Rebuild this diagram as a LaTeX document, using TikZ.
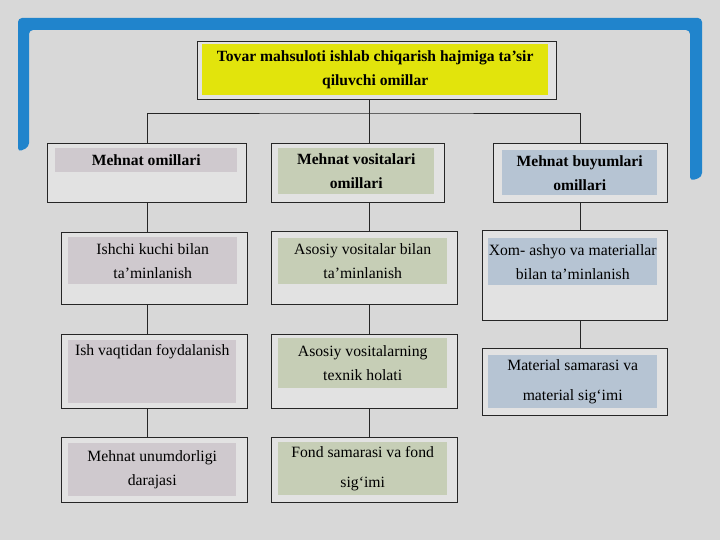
\documentclass[tikz,border=0pt]{standalone}
\usepackage{fontspec}
\setmainfont{Liberation Serif}
\usetikzlibrary{positioning}
\definecolor{slidebg}{RGB}{216,216,216}
\definecolor{boxbg}{RGB}{226,226,226}
\definecolor{frameblue}{RGB}{32,132,204}
\definecolor{titleyellow}{RGB}{226,228,12}
\definecolor{hlpink}{RGB}{207,201,206}
\definecolor{hlgreen}{RGB}{198,206,182}
\definecolor{hlblue}{RGB}{182,196,211}

\begin{document}
\begin{tikzpicture}[x=1pt,y=-1pt,
  box/.style={draw=black!85, line width=0.8pt, fill=boxbg, anchor=north west, inner sep=0pt},
  hl/.style={anchor=north west, inner sep=0pt, align=center, font=\fontsize{15.7}{24}\selectfont},
  hlbold/.style={hl, font=\fontsize{15.6}{24}\selectfont\bfseries},
  link/.style={draw=black!85, line width=0.8pt}]
% slide background and blue frame
\fill[slidebg] (0,0) rectangle (720,540);
\fill[frameblue, rounded corners=4pt] (18,152) -- (18,18) -- (702,18) -- (702,177) -- (690,181) -- (690,30) -- (29,30) -- (29,147) -- cycle;

% title
\node[box, minimum width=359pt, minimum height=58pt] (title) at (197,41) {};
\node[hlbold, fill=titleyellow, minimum width=346pt, minimum height=51pt] (titletxt) at (202,44) {Tovar mahsuloti ishlab chiqarish hajmiga ta’sir\\qiluvchi omillar};

% top row
\node[box, minimum width=199pt, minimum height=59pt] (c1top) at (47,143) {};
\node[hlbold, fill=hlpink, minimum width=182pt, minimum height=24pt] (c1toptxt) at (55,148) {Mehnat omillari};
\node[box, minimum width=173pt, minimum height=59pt] (c2top) at (271,143) {};
\node[hlbold, fill=hlgreen, minimum width=156pt, minimum height=46pt] (c2toptxt) at (278,148) {Mehnat vositalari\\omillari};
\node[box, minimum width=174pt, minimum height=59pt] (c3top) at (493,143) {};
\node[hlbold, fill=hlblue, minimum width=155pt, minimum height=45pt] (c3toptxt) at (502,150) {Mehnat buyumlari\\omillari};

% column 1
\node[box, minimum width=186pt, minimum height=72pt] (c1b2) at (61,232) {};
\node[hl, fill=hlpink, minimum width=169pt, minimum height=47pt] (c1b2txt) at (68,237) {Ishchi kuchi bilan\\ta’minlanish};
\node[box, minimum width=186pt, minimum height=74pt] (c1b3) at (61,334) {};
\node[hl, fill=hlpink, minimum width=168pt, text height=15pt, text depth=48pt] (c1b3txt) at (68,340) {Ish vaqtidan foydalanish};
\node[box, minimum width=186pt, minimum height=65pt] (c1b4) at (61,437) {};
\node[hl, fill=hlpink, minimum width=168pt, minimum height=53pt] (c1b4txt) at (68,443) {Mehnat unumdorligi\\darajasi};

% column 2
\node[box, minimum width=186pt, minimum height=73pt] (c2b2) at (271,231) {};
\node[hl, fill=hlgreen, minimum width=169pt, minimum height=46pt] (c2b2txt) at (278,238) {Asosiy vositalar bilan\\ta’minlanish};
\node[box, minimum width=186pt, minimum height=74pt] (c2b3) at (271,334) {};
\node[hl, fill=hlgreen, minimum width=169pt, minimum height=50pt] (c2b3txt) at (278,338) {Asosiy vositalarning\\texnik holati};
\node[box, minimum width=186pt, minimum height=65pt] (c2b4) at (271,437) {};
\node[hl, fill=hlgreen, minimum width=169pt, minimum height=53pt] (c2b4txt) at (278,442) {Fond samarasi va fond\\[6pt]sig‘imi};

% column 3
\node[box, minimum width=185pt, minimum height=90pt] (c3b2) at (482,230) {};
\node[hl, fill=hlblue, minimum width=169pt, minimum height=47pt] (c3b2txt) at (488,238) {Xom- ashyo va materiallar\\bilan ta’minlanish};
\node[box, minimum width=185pt, minimum height=67pt] (c3b3) at (482,348) {};
\node[hl, fill=hlblue, minimum width=169pt, minimum height=53pt] (c3b3txt) at (488,355) {Material samarasi va\\[6pt]material sig‘imi};

% connectors
\coordinate (split) at (369,113);
\draw[link] (split |- title.south) -- (split);
\draw[link] (c1top.north) |- (split) -| (c3top.north);
\draw[link] (split) -- (split |- c2top.north);
\draw[link] (c1top.south) -- (c1top.south |- c1b2.north);
\draw[link] (c1top.south |- c1b2.south) -- (c1top.south |- c1b3.north);
\draw[link] (c1top.south |- c1b3.south) -- (c1top.south |- c1b4.north);
\draw[link] (split |- c2top.south) -- (split |- c2b2.north);
\draw[link] (split |- c2b2.south) -- (split |- c2b3.north);
\draw[link] (split |- c2b3.south) -- (split |- c2b4.north);
\draw[link] (c3top.south) -- (c3top.south |- c3b2.north);
\draw[link] (c3top.south |- c3b2.south) -- (c3top.south |- c3b3.north);
\end{tikzpicture}
\end{document}
